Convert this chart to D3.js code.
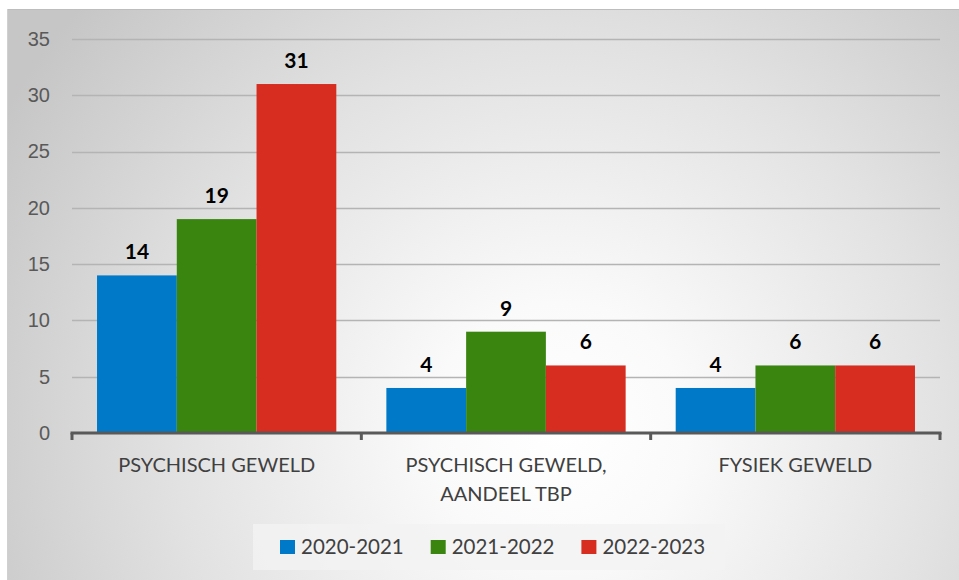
<!DOCTYPE html>
<html>
<head>
<meta charset="utf-8">
<script src="https://cdn.jsdelivr.net/npm/d3@7"></script>
<style>
    body { margin: 0; background: #fff; }
    svg { display: block; font-family: Lato, "Open Sans", sans-serif; }
    .axis--y text { fill: #595959; font-size: 20px; }
    .cat-label { fill: #404040; font-size: 20px; }
    .value-label { fill: #000; font-size: 21px; font-weight: bold; }
    .legend-text { fill: #404040; font-size: 20.5px; }
</style>
</head>
<body>
<svg id="chart"></svg>
<script>
// categories and series
var categories = ["PSYCHISCH GEWELD", "PSYCHISCH GEWELD,\nAANDEEL TBP", "FYSIEK GEWELD"];
var seriesNames = ["2020-2021", "2021-2022", "2022-2023"];
var values2020 = [14, 4, 4];
var values2021 = [19, 9, 6];
var values2022 = [31, 6, 6];
var yTicks = [0, 5, 10, 15, 20, 25, 30, 35];

var colors = ["#0079C8", "#3A8510", "#D62D20"];
var seriesValues = [values2020, values2021, values2022];

var W = 959, H = 580,
    margin = {top: 39, right: 19, bottom: 147, left: 72},
    width = W - margin.left - margin.right,
    height = H - margin.top - margin.bottom;

var svg = d3.select("#chart").attr("width", W).attr("height", H);

// background gradient like the office chart fill
var grad = svg.append("defs").append("radialGradient")
    .attr("id", "bg")
    .attr("gradientUnits", "userSpaceOnUse")
    .attr("cx", 560).attr("cy", 430).attr("r", 640);
grad.append("stop").attr("offset", "0%").attr("stop-color", "#ffffff");
grad.append("stop").attr("offset", "20%").attr("stop-color", "#fafafa");
grad.append("stop").attr("offset", "60%").attr("stop-color", "#e2e2e2");
grad.append("stop").attr("offset", "100%").attr("stop-color", "#c6c6c6");

svg.append("rect")
    .attr("x", 7).attr("y", 9)
    .attr("width", W - 7).attr("height", H - 9)
    .style("fill", "url(#bg)");
svg.append("line")
    .attr("x1", 7).attr("x2", W).attr("y1", 9.5).attr("y2", 9.5)
    .style("stroke", "#bdbdbd");
svg.append("line")
    .attr("x1", 7.5).attr("x2", 7.5).attr("y1", 9).attr("y2", H)
    .style("stroke", "#d0d0d0");

var g = svg.append("g").attr("transform", "translate(" + margin.left + "," + margin.top + ")");

var x0 = d3.scaleBand()
    .domain(categories)
    .range([0, width])
    .paddingInner(0.173)
    .paddingOuter(0.0865)
    .align(0.5);
// band boundaries for the axis ticks
var xOuter = d3.scaleBand().domain(categories).range([0, width]);

var x1 = d3.scaleBand()
    .domain(seriesNames)
    .range([0, x0.bandwidth()]);

var y = d3.scaleLinear()
    .domain([0, 35])
    .range([height, 0]);

// gridlines
g.append("g")
    .selectAll("line")
    .data(yTicks.slice(1))
    .enter().append("line")
    .attr("x1", 0).attr("x2", width)
    .attr("y1", function (d) { return Math.round(y(d)) + 0.5; })
    .attr("y2", function (d) { return Math.round(y(d)) + 0.5; })
    .style("stroke", "#b4b4b4")
    .style("stroke-width", 1.3);

// y axis labels
var yAxis = g.append("g")
    .attr("class", "axis axis--y")
    .call(d3.axisLeft(y).tickValues(yTicks).tickSize(0).tickPadding(22));
yAxis.select(".domain").remove();

// bars
var groups = g.selectAll(".group")
    .data(categories)
    .enter().append("g")
    .attr("class", "group")
    .attr("transform", function (d) { return "translate(" + x0(d) + ",0)"; });

groups.each(function (cat, ci) {
    var grp = d3.select(this);
    seriesNames.forEach(function (s, si) {
        var v = seriesValues[si][ci];
        grp.append("rect")
            .attr("x", x1(s))
            .attr("y", y(v))
            .attr("width", x1.bandwidth())
            .attr("height", height - y(v))
            .style("fill", colors[si]);
        grp.append("text")
            .attr("class", "value-label")
            .attr("x", x1(s) + x1.bandwidth() / 2)
            .attr("y", y(v) - 16)
            .attr("text-anchor", "middle")
            .text(v);
    });
});

// x axis line + ticks
var xAxis = g.append("g").attr("transform", "translate(0," + height + ")");
xAxis.append("line")
    .attr("x1", -1.5).attr("x2", width + 1.5)
    .style("stroke", "#595959").style("stroke-width", 3);
var tickPos = categories.map(function (c) { return xOuter(c); }).concat([width]);
xAxis.selectAll(".tick")
    .data(tickPos)
    .enter().append("line")
    .attr("x1", function (d) { return d; })
    .attr("x2", function (d) { return d; })
    .attr("y1", 0).attr("y2", 7)
    .style("stroke", "#595959").style("stroke-width", 3);

// category labels
categories.forEach(function (c) {
    var lines = c.split("\n");
    var t = xAxis.append("text")
        .attr("class", "cat-label")
        .attr("text-anchor", "middle")
        .attr("x", xOuter(c) + xOuter.bandwidth() / 2)
        .attr("y", 39);
    lines.forEach(function (l, i) {
        t.append("tspan")
            .attr("x", xOuter(c) + xOuter.bandwidth() / 2)
            .attr("dy", i === 0 ? 0 : 29)
            .text(l);
    });
});

// legend
svg.append("rect")
    .attr("x", 253).attr("y", 524)
    .attr("width", 472).attr("height", 46)
    .style("fill", "#f3f3f3").style("opacity", 0.8);

var legend = svg.append("g").attr("transform", "translate(280,540)");
seriesNames.forEach(function (s, i) {
    var item = legend.append("g").attr("transform", "translate(" + (i * 150.7) + ",0)");
    item.append("rect")
        .attr("width", 15).attr("height", 14)
        .style("fill", colors[i]);
    item.append("text")
        .attr("class", "legend-text")
        .attr("x", 21)
        .attr("y", 14)
        .text(s);
});
</script>
</body>
</html>
